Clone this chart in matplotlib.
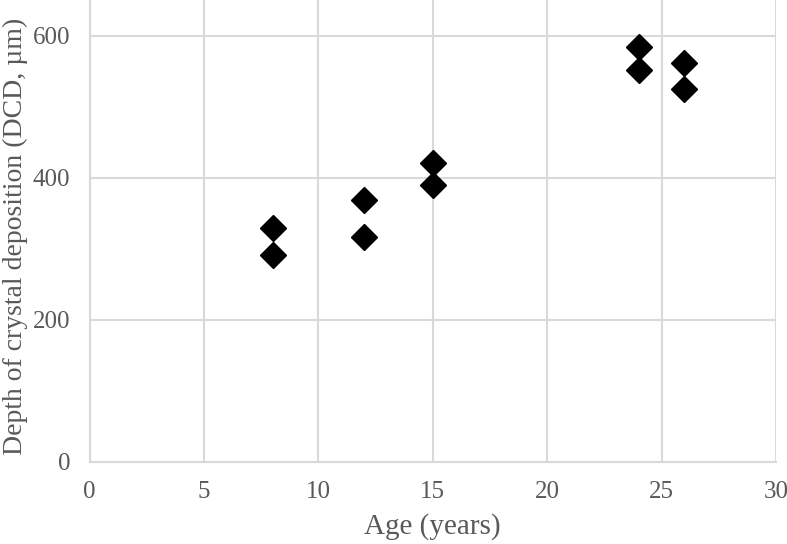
import matplotlib
matplotlib.use("Agg")
import matplotlib.pyplot as plt

ages = [8, 8, 12, 12, 15, 15, 24, 24, 26, 26]
dcd = [329, 291, 368, 316, 420, 390, 584, 552, 562, 524]
x_ticks = [0, 5, 10, 15, 20, 25, 30]
y_ticks = [0, 200, 400, 600]

plt.rcParams['font.family'] = ['Liberation Serif', 'DejaVu Serif']

fig = plt.figure(figsize=(7.87, 5.44), dpi=100)
ax = fig.add_axes([89.5/787, (544-461.7)/544, (776-89.5)/787, 461.7/544])

grid_c = '#d9d9d9'
text_c = '#595959'

ax.set_xlim(0, 30)
ax.set_ylim(0, 650)
ax.set_xticks(x_ticks)
ax.set_yticks(y_ticks)
ax.grid(True, color=grid_c, linewidth=1.5, zorder=0)
ax.set_axisbelow(True)
for s in ['top', 'right']:
    ax.spines[s].set_visible(False)
for s in ['left', 'bottom']:
    ax.spines[s].set_color(grid_c)
    ax.spines[s].set_linewidth(1.5)
ax.tick_params(axis='both', length=0, labelsize=18, labelcolor=text_c)
ax.tick_params(axis='x', pad=14)
ax.tick_params(axis='y', pad=14)

ax.plot(ages, dcd, linestyle='none', marker='D', markersize=13,
        color='black', zorder=3, clip_on=False)

ax.set_xlabel('Age (years)', fontsize=21, color=text_c)
ax.xaxis.label.set_va('baseline')
ax.xaxis.set_label_coords(0.5, (461.7 - 534) / 461.7)
ax.set_ylabel('Depth of crystal deposition (DCD, µm)', fontsize=20, color=text_c)
ax.yaxis.set_label_coords((28 - 89.5) / 686.5, 0.489)

fig.savefig('out.png', dpi=100)
